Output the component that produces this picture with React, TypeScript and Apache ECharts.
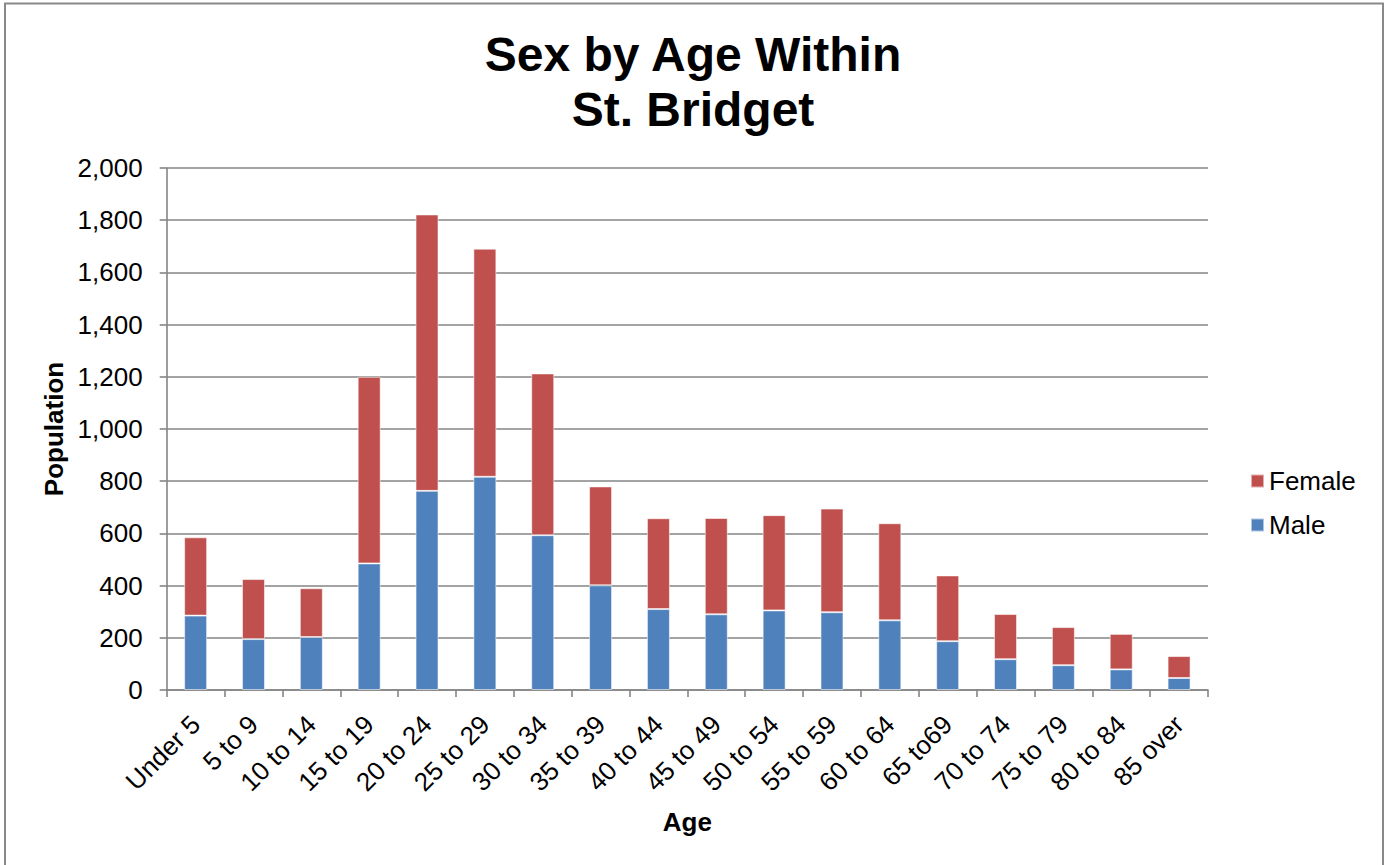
import React, { useEffect, useRef } from "react";
import * as echarts from "echarts";

const categories = [
  "Under 5", "5 to 9", "10 to 14", "15 to 19", "20 to 24", "25 to 29",
  "30 to 34", "35 to 39", "40 to 44", "45 to 49", "50 to 54", "55 to 59",
  "60 to 64", "65 to69", "70 to 74", "75 to 79", "80 to 84", "85 over",
];
const male = [285, 195, 203, 485, 763, 817, 593, 401, 310, 290, 305, 298, 267, 187, 118, 95, 79, 46];
const female = [300, 230, 187, 715, 1059, 874, 620, 379, 348, 369, 365, 397, 372, 252, 173, 146, 136, 84];
const yTicks = { min: 0, max: 2000, interval: 200 };

const FONT = "Liberation Sans, Arial, Helvetica, sans-serif";

export default function App() {
  const ref = useRef<HTMLDivElement>(null);
  useEffect(() => {
    if (!ref.current) return;
    const chart = echarts.init(ref.current, undefined, { renderer: "svg" });
    chart.setOption({
      animation: false,
      backgroundColor: "#ffffff",
      textStyle: { fontFamily: FONT },
      title: {
        text: "Sex by Age Within\nSt. Bridget",
        left: "center",
        top: 27,
        padding: 0,
        textStyle: {
          fontFamily: FONT,
          fontSize: 48,
          fontWeight: "bold",
          color: "#000",
          lineHeight: 55,
          align: "center",
        },
      },
      legend: {
        orient: "vertical",
        left: 1250,
        top: 468,
        padding: 0,
        itemWidth: 13,
        itemHeight: 13,
        itemGap: 18,
        icon: "rect",
        data: ["Female", "Male"],
        textStyle: { fontFamily: FONT, fontSize: 26, color: "#000", lineHeight: 26 },
      },
      grid: { left: 166.7, right: 178, top: 168, bottom: 175, containLabel: false },
      xAxis: {
        type: "category",
        data: categories,
        name: "Age",
        nameLocation: "middle",
        nameGap: 119,
        nameTextStyle: { fontFamily: FONT, fontSize: 26, fontWeight: "bold", color: "#000" },
        axisLine: { lineStyle: { color: "#858585", width: 1.6 } },
        axisTick: { show: true, length: 7, lineStyle: { color: "#858585", width: 1.6 } },
        axisLabel: {
          rotate: 45,
          margin: 30,
          fontFamily: FONT,
          fontSize: 26,
          color: "#000",
          interval: 0,
        },
      },
      yAxis: {
        type: "value",
        min: yTicks.min,
        max: yTicks.max,
        interval: yTicks.interval,
        name: "Population",
        nameLocation: "middle",
        nameGap: 94,
        nameRotate: 90,
        nameTextStyle: { fontFamily: FONT, fontSize: 26, fontWeight: "bold", color: "#000" },
        axisLine: { show: true, lineStyle: { color: "#858585", width: 1.6 } },
        axisTick: { show: true, length: 7, lineStyle: { color: "#858585", width: 1.6 } },
        splitLine: { show: true, lineStyle: { color: "#858585", width: 1.6 } },
        axisLabel: { margin: 24, fontFamily: FONT, fontSize: 26, color: "#000" },
      },
      series: [
        {
          name: "Male",
          type: "bar",
          stack: "total",
          data: male,
          barWidth: 23,
          itemStyle: { color: "#4F81BD", borderColor: "rgba(255,255,255,0.55)", borderWidth: 1 },
        },
        {
          name: "Female",
          type: "bar",
          stack: "total",
          data: female,
          barWidth: 23,
          itemStyle: { color: "#C0504D", borderColor: "rgba(255,255,255,0.55)", borderWidth: 1 },
        },
      ],
      graphic: [
        {
          type: "rect",
          shape: { x: 5, y: 3.5, width: 1378, height: 900 },
          style: { fill: "none", stroke: "#898989", lineWidth: 2 },
          silent: true,
        },
      ],
    });
    return () => chart.dispose();
  }, []);
  return (
    <div
      ref={ref}
      style={{ position: "absolute", left: 0, top: 0, width: 1386, height: 865 }}
    />
  );
}
